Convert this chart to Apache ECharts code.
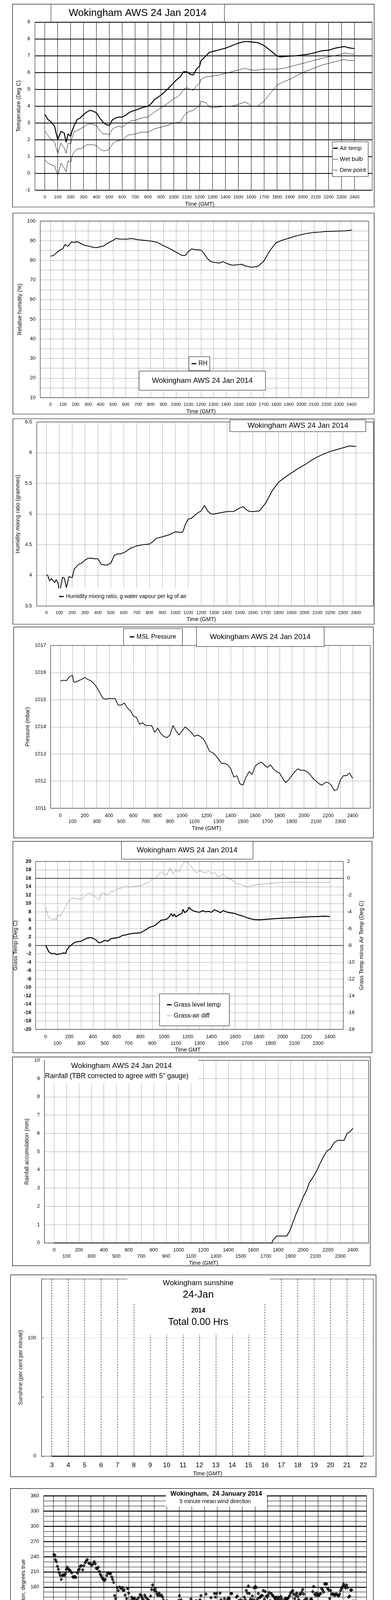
<!DOCTYPE html>
<html><head><meta charset="utf-8">
<script src="https://cdn.jsdelivr.net/npm/echarts@6/dist/echarts.min.js"></script>
<style>html,body{margin:0;padding:0;background:#fff}#c{width:1000px;height:5000px}</style>
</head><body><div id="c"></div>
<script>
// ===================== DATA =====================
// Panel 1: temperatures (time in HHMM-style units 0..2400)
const tempTime = [0,25,50,75,100,125,150,165,180,200,210,225,250,275,300,325,350,375,400,425,450,475,500,525,550,575,600,625,650,675,700,750,800,825,850,900,950,1000,1025,1050,1075,1100,1125,1150,1175,1200,1210,1250,1275,1300,1350,1400,1450,1500,1550,1575,1600,1650,1700,1750,1800,1825,1850,1900,1950,2000,2050,2100,2150,2200,2250,2300,2325,2350,2400];
const airTemp = [3.5,3.2,3.05,2.8,2.0,2.5,2.4,1.85,2.35,2.2,2.5,2.8,3.2,3.3,3.5,3.65,3.75,3.7,3.6,3.3,3.05,2.9,2.85,3.2,3.3,3.35,3.35,3.45,3.6,3.7,3.75,3.9,4.0,4.15,4.4,4.65,5.0,5.4,5.6,5.75,6.05,6.05,5.9,5.85,6.2,6.4,6.7,7.0,7.2,7.25,7.35,7.45,7.6,7.75,7.85,7.85,7.82,7.78,7.6,7.3,6.98,6.93,6.95,6.98,7.0,7.05,7.1,7.2,7.3,7.33,7.45,7.52,7.55,7.48,7.42];
const wetBulb = [2.5,2.25,2.0,1.85,1.2,1.8,1.5,1.2,1.8,1.75,2.1,2.45,2.55,2.65,2.75,2.9,2.95,2.9,2.85,2.55,2.35,2.35,2.3,2.65,2.75,2.8,2.75,2.9,3.05,3.15,3.15,3.3,3.35,3.5,3.65,3.9,4.15,4.45,4.55,4.7,5.0,5.1,5.0,4.95,5.2,5.35,5.6,5.75,5.75,5.8,5.85,5.95,6.05,6.15,6.25,6.2,6.15,6.15,6.2,6.2,6.2,6.22,6.25,6.35,6.45,6.55,6.65,6.75,6.85,6.95,7.0,7.1,7.17,7.12,7.08];
const dewPoint = [0.8,0.6,0.5,0.45,-0.1,0.6,0.3,0.1,0.75,0.65,1.0,1.25,1.45,1.45,1.55,1.7,1.7,1.7,1.65,1.45,1.35,1.35,1.45,1.75,1.9,1.95,2.0,2.15,2.3,2.3,2.35,2.45,2.45,2.55,2.65,2.75,2.85,3.0,3.02,3.02,3.4,3.6,3.7,3.75,3.9,4.0,4.3,4.2,3.95,3.9,3.95,4.0,4.0,4.1,4.25,4.15,4.0,4.0,4.3,4.8,5.25,5.35,5.45,5.6,5.8,6.0,6.15,6.3,6.45,6.55,6.65,6.75,6.77,6.72,6.72];

// Panel 2: relative humidity
const rhTime = [0,25,50,75,100,115,140,170,190,210,250,275,300,350,375,400,425,450,500,525,550,600,650,700,750,800,850,900,950,1000,1050,1075,1100,1125,1150,1200,1225,1250,1275,1300,1350,1375,1400,1450,1500,1525,1550,1600,1650,1700,1750,1800,1850,1900,1950,2000,2050,2100,2150,2200,2250,2300,2350,2400];
const rh = [82.1,82.5,84,85.2,86,88,87.2,89.5,89,89.6,88.3,87.6,87.3,86.5,86.5,87,87.3,88.5,90.2,91.2,90.8,90.8,91.1,90.5,90.2,89.8,89.2,87.5,86,84.2,82.5,82.5,84.5,85.8,85.5,85.2,83.5,81,79.5,79,78.6,79.4,78.5,77.5,77.8,78,77.2,76.5,76.8,79.5,85,89,90.3,91.3,92.3,93.1,93.8,94.2,94.4,94.7,94.8,94.9,95.0,95.4];

// Panel 3: humidity mixing ratio
const mrTime = [0,10,25,40,50,65,75,90,100,110,125,140,155,175,200,215,250,275,300,325,350,375,400,425,450,475,500,525,550,575,600,625,650,675,700,750,800,825,850,900,950,1000,1050,1060,1075,1100,1125,1150,1175,1200,1225,1250,1275,1300,1350,1400,1450,1500,1525,1550,1575,1600,1650,1700,1750,1800,1850,1900,1950,2000,2050,2100,2150,2200,2250,2300,2350,2400];
const mixRatio = [4.01,4.0,3.91,3.95,3.92,3.88,3.93,3.88,3.74,3.8,3.97,3.95,3.8,3.98,3.96,4.1,4.18,4.2,4.25,4.28,4.28,4.27,4.27,4.18,4.17,4.17,4.2,4.32,4.35,4.35,4.37,4.4,4.44,4.46,4.48,4.5,4.51,4.55,4.6,4.63,4.66,4.71,4.7,4.72,4.82,4.92,4.93,4.98,5.02,5.05,5.14,5.05,5.0,5.0,5.02,5.04,5.04,5.1,5.12,5.07,5.04,5.04,5.05,5.18,5.38,5.52,5.6,5.67,5.74,5.8,5.87,5.93,5.98,6.02,6.05,6.08,6.11,6.1];

// Panel 4: MSL pressure
const presTime = [0,25,50,75,100,110,125,150,175,200,225,250,275,300,325,350,375,400,425,450,475,500,525,550,575,600,625,650,675,700,725,750,775,800,825,850,875,900,925,950,975,1000,1025,1050,1075,1100,1125,1150,1175,1200,1225,1250,1275,1300,1325,1350,1375,1400,1425,1450,1475,1500,1525,1550,1575,1600,1625,1650,1675,1700,1725,1750,1775,1800,1825,1850,1875,1900,1925,1950,1975,2000,2025,2050,2075,2100,2125,2150,2175,2200,2225,2250,2275,2300,2325,2350,2375,2400];
const pressure = [1015.69,1015.72,1015.7,1015.85,1015.9,1015.65,1015.65,1015.7,1015.75,1015.82,
  1015.75,1015.7,1015.6,1015.45,1015.25,1015.05,1015.02,1015.05,1015.04,1015.05,
  1014.8,1014.8,1014.88,1014.7,1014.6,1014.4,1014.35,1014.1,1014.15,1014.05,
  1014.05,1014.05,1013.8,1013.95,1013.75,1013.65,1013.6,1013.7,1014.05,1013.85,
  1013.7,1013.85,1014.0,1013.9,1013.8,1013.65,1013.7,1013.65,1013.55,1013.35,
  1013.1,1013.05,1012.95,1012.8,1012.65,1012.65,1012.6,1012.45,1012.15,1012.2,
  1011.9,1011.85,1012.15,1012.35,1012.25,1012.55,1012.65,1012.7,1012.6,1012.5,
  1012.6,1012.45,1012.35,1012.3,1012.1,1011.95,1012.05,1012.2,1012.35,1012.45,
  1012.4,1012.4,1012.35,1012.25,1012.1,1012.0,1011.9,1011.85,1011.95,1011.95,
  1011.85,1011.65,1011.7,1012.05,1012.2,1012.2,1012.3,1012.1];

// Panel 5: grass temperature and grass-air difference
const grassTime = [0,15,25,40,50,75,90,100,125,150,170,180,200,225,250,275,300,325,350,375,400,425,450,475,500,525,550,575,600,625,650,675,700,750,800,825,850,875,900,925,950,975,1000,1025,1050,1060,1075,1085,1100,1125,1150,1160,1175,1200,1210,1225,1250,1275,1300,1325,1350,1375,1400,1425,1450,1475,1500,1525,1550,1575,1600,1625,1650,1675,1700,1725,1750,1800,1850,1900,1950,2000,2050,2100,2150,2200,2250,2300,2350,2400];
const grassTemp = [0,-0.8,-1.5,-1.8,-2.0,-1.9,-2.2,-2.1,-2.0,-1.8,-1.9,-1.0,-0.3,0.3,0.8,0.9,1.0,1.4,1.7,1.9,1.7,1.3,0.6,0.8,1.2,1.0,1.6,1.7,1.8,2.0,2.4,2.5,2.7,2.9,3.0,3.4,3.8,4.3,4.5,4.8,5.4,6.0,6.1,6.3,7.0,7.6,6.9,7.5,6.8,7.3,7.6,8.6,7.8,8.4,9.1,8.6,8.2,8.0,7.9,8.3,8.0,8.1,7.9,8.5,8.2,7.8,8.3,8.0,7.8,7.7,7.6,7.3,7.1,6.9,6.6,6.4,6.2,6.1,6.2,6.3,6.4,6.5,6.55,6.6,6.7,6.8,6.85,6.9,6.95,6.9];
const diffTime = [0,15,25,50,65,75,90,100,125,150,175,200,225,250,275,300,325,350,375,400,425,450,475,500,525,550,575,600,625,650,675,700,750,800,850,875,900,925,950,975,1000,1025,1050,1075,1100,1125,1150,1175,1200,1225,1250,1275,1300,1325,1350,1375,1400,1425,1450,1475,1500,1525,1550,1575,1600,1625,1650,1675,1700,1725,1750,1800,1850,1900,1950,2000,2050,2100,2150,2200,2250,2300,2350,2400];
const grassAirDiff = [-3.45,-4.25,-4.6,-4.85,-5.0,-4.75,-5.0,-4.35,-4.5,-3.85,-3.25,-2.6,-2.35,-2.4,-2.5,-2.5,-2.25,-1.85,-1.75,-2.0,-2.25,-2.6,-1.7,-1.85,-2.0,-1.6,-1.6,-1.25,-1.25,-1.05,-1.0,-1.05,-1.0,-0.9,-0.6,-0.5,-0.05,0,0.4,0.8,0.5,0.4,1.25,0.5,1.0,0.75,1.5,2.0,1.9,1.5,1.0,0.65,0.9,0.75,0.6,0.9,0.5,0.75,0.2,0.25,0.5,0.15,-0.05,-0.2,-0.5,-0.7,-0.75,-0.9,-1.05,-1.0,-0.85,-0.75,-0.65,-0.6,-0.55,-0.5,-0.48,-0.45,-0.48,-0.5,-0.48,-0.52,-0.5,-0.48];

// Panel 6: rainfall accumulation
const rainTime = [0,1749,1759,1769,1793,1869,1889,1909,1939,1970,2000,2030,2050,2080,2106,2140,2170,2194,2220,2250,2280,2330,2354,2380,2400];
const rainAcc = [0,0,0.15,0.25,0.38,0.38,0.6,0.94,1.5,2.0,2.5,2.9,3.3,3.6,3.9,4.4,4.8,5.05,5.15,5.5,5.62,5.62,6.0,6.1,6.28];

// Panel 7: sunshine (hours)
const sunHour = [3,4,5,6,7,8,9,10,11,12,13,14,15,16,17,18,19,20,21,22];
const sunshine = [0,0,0,0,0,0,0,0,0,0,0,0,0,0,0,0,0,0,0,0];

// Panel 8: 5-minute mean wind direction [hour, degrees]
const windDir = [[0.06,244],[0.14,243],[0.18,234],[0.26,230],[0.34,221],[0.42,215],[0.49,208],[0.57,203],[0.65,195],[0.73,203],[0.81,204],[0.89,203],[0.97,206],[1.05,215],[1.13,219],[1.21,215],[1.29,214],[1.36,212],[1.48,208],[1.56,200],[1.64,199],[1.72,201],[1.80,199],[1.92,208],[2.00,214],[2.08,215],[2.15,221],[2.23,222],[2.35,214],[2.43,222],[2.55,228],[2.63,232],[2.71,234],[2.83,227],[2.95,226],[3.06,223],[3.18,226],[3.26,230],[3.34,226],[3.42,217],[3.50,216],[3.58,219],[3.66,211],[3.74,205],[3.82,202],[3.89,198],[3.97,195],[4.05,193],[4.13,195],[4.25,203],[4.33,208],[4.41,208],[4.49,206],[4.57,207],[4.65,200],[4.72,195],[4.80,189],[4.88,163],[4.96,157],[5.08,179],[5.16,173],[5.28,180],[5.40,177],[5.48,179],[5.56,173],[5.63,174],[5.71,164],[5.83,157],[5.91,177],[5.99,168],[6.07,149],[6.15,153],[6.23,160],[6.31,157],[6.39,156],[6.46,158],[6.58,153],[6.66,155],[6.78,159],[6.90,165],[6.98,163],[7.06,159],[7.14,155],[7.26,164],[7.33,160],[7.45,157],[7.53,154],[7.61,153],[7.73,162],[7.81,175],[7.89,184],[8.01,174],[8.09,177],[8.16,171],[8.24,166],[8.32,163],[8.40,168],[8.48,163],[8.60,164],[8.68,160],[8.76,154],[8.84,146],[8.92,144],[9.00,152],[9.07,152],[9.15,137],[9.23,133],[9.31,141],[9.39,133],[9.47,135],[9.55,132],[9.63,137],[9.71,138],[9.79,128],[9.86,144],[9.94,153],[10.02,163],[10.14,155],[10.26,149],[10.34,142],[10.42,126],[10.54,133],[10.62,135],[10.74,137],[10.85,136],[10.93,156],[11.01,138],[11.09,147],[11.17,144],[11.25,149],[11.33,153],[11.41,146],[11.53,152],[11.65,155],[11.72,163],[11.84,147],[11.92,144],[12.00,146],[12.12,166],[12.20,148],[12.28,151],[12.36,149],[12.44,147],[12.52,159],[12.59,146],[12.71,151],[12.79,167],[12.87,160],[12.95,167],[13.03,139],[13.11,142],[13.23,168],[13.31,155],[13.38,145],[13.50,151],[13.58,157],[13.70,148],[13.82,155],[13.90,159],[13.98,157],[14.10,167],[14.17,167],[14.25,144],[14.33,146],[14.45,148],[14.53,160],[14.61,162],[14.69,153],[14.77,141],[14.85,155],[14.93,149],[15.04,152],[15.16,160],[15.24,155],[15.32,173],[15.40,168],[15.48,182],[15.56,167],[15.64,156],[15.72,155],[15.80,162],[15.88,155],[15.95,178],[16.03,181],[16.11,179],[16.19,156],[16.27,167],[16.35,159],[16.43,160],[16.51,163],[16.59,163],[16.67,173],[16.75,156],[16.82,171],[16.90,162],[16.98,160],[17.06,164],[17.14,169],[17.22,153],[17.30,167],[17.38,164],[17.46,162],[17.54,159],[17.61,156],[17.69,160],[17.77,155],[17.85,160],[17.93,156],[18.05,161],[18.13,156],[18.21,151],[18.29,149],[18.37,156],[18.45,158],[18.52,156],[18.60,157],[18.68,160],[18.76,163],[18.84,168],[18.92,171],[19.00,173],[19.08,166],[19.16,157],[19.24,164],[19.32,168],[19.39,161],[19.47,155],[19.55,166],[19.63,166],[19.71,170],[19.79,175],[19.87,166],[19.95,155],[20.03,152],[20.11,157],[20.19,152],[20.26,147],[20.34,151],[20.42,156],[20.50,156],[20.58,171],[20.66,181],[20.74,166],[20.82,163],[20.90,168],[20.98,164],[21.06,163],[21.13,166],[21.21,167],[21.29,177],[21.37,174],[21.45,170],[21.53,186],[21.61,186],[21.69,186],[21.77,177],[21.85,174],[21.93,157],[22.00,173],[22.08,166],[22.16,166],[22.24,166],[22.32,163],[22.40,166],[22.48,166],[22.56,164],[22.64,162],[22.72,166],[22.80,173],[22.87,177],[22.95,181],[23.03,186],[23.11,182],[23.19,178],[23.27,184],[23.35,179],[23.43,160],[23.51,162],[23.59,174],[23.67,174],[23.75,152],[23.83,148],[23.91,152]];

// Panel 9: wind speed
const meanStepH = 0.25;   // 15-minute samples of the 10-min mean speed
const meanSpeed = [5.3,3.6,3.0,3.4, 3.9,3.4,2.8,3.6, 3.9,3.8,4.0,4.45, 3.6,3.9,4.1,3.5, 2.8,3.5,3.4,2.9, 2.0,2.65,3.15,3.4, 4.35,4.8,4.9,4.45, 4.7,4.8,5.1,4.9, 4.1,4.45,4.35,4.1, 4.45,4.35,4.9,5.2, 5.1,5.3,5.55,5.1, 5.8,6.05,5.55,6.75, 6.05,7.0,6.5,8.2, 7.5,7.0,6.75,6.3, 7.0,5.8,7.0,7.75, 8.0,7.25,6.75,6.05, 4.6,4.35,5.8,5.3, 6.7,6.85,6.3,6.75, 5.8,6.5,6.85,6.05, 5.3,4.8,5.3,5.55, 5.2,5.4,4.6,4.35, 4.75,4.1,3.9,4.8, 5.3,5.55,4.9,3.9, 3.15,2.9,2.8,2.2, 3.0];
const gustStepH = 1/6;    // 10-minute samples of max gust
const maxGust = [8.5,5.5,6.2,4.0,5.0,4.2, 5.2,3.8,4.8,3.5,5.0,3.8, 5.8,4.5,6.0,5.0,6.2,4.8, 5.5,4.6,5.8,4.5,5.5,4.2, 4.0,3.6,4.8,3.5,4.6,3.0, 2.5,3.5,2.8,4.5,3.8,5.2, 6.5,5.0,7.0,5.5,6.5,5.0, 7.5,5.5,8.0,6.0,8.8,6.0, 6.5,5.0,7.2,5.5,7.0,5.2, 7.5,5.5,8.0,6.0,8.5,6.0, 9.5,6.5,11.0,7.0,12.5,7.0, 14.5,7.5,12.0,8.0,13.0,7.5, 11.5,8.0,16.5,7.0,12.5,8.5, 13.5,8.0,12.0,7.5,14.5,7.5, 12.0,7.0,12.5,8.0,13.0,7.5, 15.0,8.0,12.0,7.0,11.0,6.5, 9.0,5.0,8.5,5.5,9.0,6.0, 11.0,7.0,14.5,7.5,12.0,7.0, 13.0,6.5,11.5,7.0,12.5,6.0, 9.5,6.0,11.0,6.5,10.0,6.0, 10.5,5.5,9.5,5.0,9.0,5.0, 8.5,4.5,7.5,5.0,9.0,5.5, 9.0,5.5,9.5,5.0,8.0,4.5, 6.0,3.5,5.0,2.8,4.5,2.6, 4.2];
const lowSpeedX10 = [[0.23,39.4],[0.27,37.5],[0.31,36.8],[0.35,35.3],[0.42,36.3],[0.46,34.8],[0.50,33.4],[0.54,31.2],[0.58,30.0],[0.62,28.8],[0.65,28.3],[0.69,29.5],[0.73,30.5],[0.77,31.9],[0.81,33.4],[0.85,34.8],[0.89,36.0],[0.92,37.2],[0.96,38.7],[1.00,36.0],[1.04,34.8],[1.08,33.4],[1.12,32.2],[1.16,30.9],[1.19,30.0],[1.23,29.5],[1.27,30.5],[1.31,32.2],[1.35,33.8],[1.39,32.4],[1.43,30.9],[1.46,29.7],[1.50,28.5],[1.54,27.1],[1.58,26.6],[1.62,32.2],[1.66,34.8],[1.69,36.3],[1.73,38.2],[1.77,39.9],[1.81,39.2],[1.89,38.7],[1.96,37.7],[2.04,38.2],[2.12,38.9],[2.20,37.2],[2.27,39.2],[2.35,38.2],[2.43,39.2],[2.50,40.0],
 [2.89,39.7],[2.93,38.7],[2.97,37.2],[3.00,36.3],[3.04,38.2],[3.08,39.2],[3.12,39.7],[3.16,37.9],[3.20,37.2],[3.27,39.7],[3.35,38.7],[3.43,39.2],[3.51,38.2],[3.54,37.2],[3.58,36.3],[3.62,35.1],[3.66,33.8],[3.70,32.4],[3.74,31.2],[3.78,30.0],[3.81,29.0],[3.85,28.0],[3.89,29.5],[3.93,28.8],[3.97,27.8],[4.00,29.5],[4.04,28.0],[4.08,26.8],[4.12,27.6],[4.16,29.0],[4.20,33.4],[4.24,34.8],[4.28,36.3],[4.31,37.0],[4.35,35.8],[4.39,34.8],[4.43,36.3],[4.47,36.8],[4.51,35.3],[4.55,34.1],[4.58,32.4],[4.62,30.9],[4.66,29.5],[4.70,28.0],[4.74,27.1],[4.78,26.1],[4.82,24.9],[4.85,25.6],[4.89,26.6],[4.93,27.3],[4.97,24.7],[5.01,23.2],[5.05,21.8],[5.08,20.3],[5.12,19.6],[5.16,20.6],[5.20,21.8],[5.24,23.2],[5.28,23.9],[5.32,25.1],[5.35,26.6],[5.39,27.8],[5.43,29.3],[5.47,31.2],[5.51,32.9],[5.55,34.3],[5.59,35.8],[5.62,36.8],[5.66,37.2],[5.70,36.3],[5.74,35.3],[5.78,34.3],[5.82,33.4],[5.86,32.2],[5.89,30.9],[5.93,30.5],[5.97,31.9],[6.01,33.4],[6.05,34.8],[6.09,36.3],[6.12,38.4],[6.16,39.2],
 [7.97,38.4],[8.01,39.7],[8.05,39.2],[8.86,39.9],[8.90,38.9],[8.94,38.0],[9.01,39.4],[9.44,39.9],[9.48,38.7],[9.51,38.1],[9.55,39.7],[9.94,39.9],[16.22,39.9],[16.45,39.3],[19.41,38.9],
 [21.63,39.7],[21.69,38.9],[21.73,36.3],[21.77,34.3],[21.80,32.4],[21.84,33.1],[21.88,34.8],[21.92,37.2],[21.96,38.2],[22.00,35.3],[22.04,33.4],[22.07,34.8],[22.11,36.3],[22.15,36.8],[22.19,39.2],
 [23.07,39.4],[23.11,38.8],[23.15,37.0],[23.19,34.8],[23.23,33.8],[23.27,32.4],[23.31,30.5],[23.35,29.0],[23.39,27.6],[23.42,29.5],[23.46,31.4],[23.50,32.4],[23.54,30.9],[23.58,29.5],[23.62,28.0],[23.65,26.1],[23.69,24.4],[23.73,22.7],[23.77,21.0],[23.81,18.6],[23.85,20.3],[23.89,22.2],[23.92,24.7],[23.96,28.0],[24.00,29.7]];

// ===================== LAYOUT / STYLE =====================
const SANS = '"Liberation Sans",Arial,sans-serif';
const PLAIN = v => String(+(+v).toFixed(2));
const LBL = {fontFamily:SANS,fontSize:12.5,color:'#000',formatter:PLAIN};
const NAME = {fontFamily:SANS,fontSize:14,color:'#000'};
// legend icons: a thick bar, and a thin bar centred in the same box
const ICON_THICK = 'path://M0,0H12V3H0Z';
const ICON_THIN = 'path://M0,0L12,0M0,1H12V2H0ZM0,3L12,3';

const grid=[], xAxis=[], yAxis=[], series=[], legend=[], graphic=[];
const zip = (xs, ys) => xs.map((x,i)=>[x, ys[i]]);
function addGrid(l,t,r,b,show){ grid.push({left:l,top:t,width:r-l,height:b-t,show:!!show,borderColor:'#000',borderWidth:1,backgroundColor:'transparent'}); return grid.length-1; }
function addX(o){ xAxis.push(o); return xAxis.length-1; }
function addY(o){ yAxis.push(Object.assign({position:'left'},o)); return yAxis.length-1; }
function mkLine(name,xi,yi,data,color,width,extra){
  return Object.assign({type:'line',name,xAxisIndex:xi,yAxisIndex:yi,data,symbol:'none',showSymbol:false,
    lineStyle:{color,width},itemStyle:{color},silent:true,z:3}, extra||{});
}
function box(x,y,w,h,opt){ graphic.push(Object.assign({type:'rect',z:10,shape:{x,y,width:w,height:h},style:{fill:'#fff',stroke:'#000',lineWidth:1}},opt||{})); }
function cover(x,y,w,h){ graphic.push({type:'rect',z:10,shape:{x,y,width:w,height:h},style:{fill:'#fff',stroke:null}}); }
function frameBox(x,y,w,h){ graphic.push({type:'rect',z:1,shape:{x,y,width:w,height:h},style:{fill:'none',stroke:'#000',lineWidth:1.2}}); }
function txt(x,y,text,size,o){ o=o||{}; graphic.push({type:'text',z:12,style:{text,x,y,fill:'#000',fontSize:size,fontFamily:o.family||SANS,fontWeight:o.weight||'normal',
  align:o.align||'center',textAlign:o.align||'center',verticalAlign:'middle',textVerticalAlign:'middle'}}); }
function lbl(o){ return Object.assign({}, LBL, o||{}); }
function innerX(gi,min,max,interval,o){
  return addX(Object.assign({gridIndex:gi,type:'value',min,max,interval,axisLine:{show:false},axisTick:{show:false},
    axisLabel:lbl({margin:12}),splitLine:{show:true,showMinLine:true,showMaxLine:true,lineStyle:{color:'#000',width:1}},
    nameLocation:'middle',nameTextStyle:NAME},o||{}));
}
const TITLE = 'Wokingham AWS 24 Jan 2014';
const twoRow = v => (Math.round(v/100)%2===1 ? '\n'+v : String(v));
const DOT = {color:'#000',width:1,type:[1,2]};
const legendBase = {selectedMode:false,z:20,backgroundColor:'#fff'};

// ---------- Panel 1: Temperature ----------
frameBox(32,10.7,925,519.3);
{
  const F = addGrid(89.3,56.7,952,486.7,true);
  addX({gridIndex:F,type:'value',min:0,max:1,show:false});
  addY({gridIndex:F,type:'value',min:-1,max:9,interval:1,axisLine:{show:false},axisTick:{show:false},
    axisLabel:lbl({margin:12,fontSize:13}),splitLine:{show:true,lineStyle:{color:'#000',width:2}},
    name:'Temperature (Deg C)',nameLocation:'middle',nameGap:34,nameTextStyle:NAME});
  const I = addGrid(114.7,56.7,906.7,486.7,false);
  const ix = innerX(I,0,2400,100,{name:'Time (GMT)',nameGap:29,axisLabel:lbl({margin:12.5,fontSize:11.5})});
  const iy = addY({gridIndex:I,type:'value',min:-1,max:9,show:false});
  series.push(mkLine('Air temp',ix,iy,zip(tempTime,airTemp),'#000',2.5));
  series.push(mkLine('Wet bulb',ix,iy,zip(tempTime,wetBulb),'#000',1));
  series.push(mkLine('Dew point',ix,iy,zip(tempTime,dewPoint),'#000',1));
  legend.push(Object.assign({},legendBase,{data:[{name:'Air temp',icon:ICON_THICK},{name:'Wet bulb',icon:ICON_THIN},{name:'Dew point',icon:ICON_THIN}],
    orient:'vertical',left:850,top:363,itemWidth:12,itemHeight:3,itemGap:13,
    padding:[9,6,9,2],borderColor:'#000',borderWidth:1,textStyle:{fontFamily:SANS,fontSize:15,color:'#000',lineHeight:15}}));
  box(130.3,10.7,443.7,45.6);
  txt(352,33.5,TITLE,26);
}

// ---------- Panel 2: Relative humidity ----------
frameBox(33,545.5,924,514.5);
{
  const F = addGrid(103,566,943,1018,true);
  addX({gridIndex:F,type:'value',min:0,max:1,show:false});
  addY({gridIndex:F,type:'value',min:10,max:100,interval:5,axisLine:{show:false},axisTick:{show:false},
    axisLabel:lbl({margin:12,fontSize:13,formatter:v=>(v%10===0?String(v):'')}),splitLine:{show:true,lineStyle:DOT},
    name:'Relative humidity (%)',nameLocation:'middle',nameGap:43,nameTextStyle:NAME});
  const I = addGrid(129,566,899,1018,false);
  const ix = innerX(I,0,2400,100,{name:'Time (GMT)',nameGap:29,axisLabel:lbl({margin:11.5,fontSize:11.5}),splitLine:{show:true,lineStyle:DOT}});
  const iy = addY({gridIndex:I,type:'value',min:10,max:100,show:false});
  series.push(mkLine('RH',ix,iy,zip(rhTime,rh),'#000',2));
  legend.push(Object.assign({},legendBase,{data:[{name:'RH',icon:ICON_THICK}],left:483,top:913,itemWidth:13,itemHeight:3,
    padding:[10,6,10,7],borderColor:'#000',borderWidth:1,textStyle:{fontFamily:SANS,fontSize:16,color:'#000',lineHeight:16}}));
  box(356,950,323,49);
  txt(517.5,975,TITLE,19);
}

// ---------- Panel 3: Mixing ratio ----------
frameBox(33,1072,924,526);
{
  const F = addGrid(94,1080.3,955,1551.4,true);
  addX({gridIndex:F,type:'value',min:0,max:1,show:false});
  addY({gridIndex:F,type:'value',min:3.5,max:6.5,interval:0.5,axisLine:{show:false},axisTick:{show:false},
    axisLabel:lbl({margin:12,fontSize:13}),splitLine:{show:true,lineStyle:DOT},
    name:'Humidity mixing ratio (grammes)',nameLocation:'middle',nameGap:40,nameTextStyle:NAME});
  const I = addGrid(118.6,1080.3,910.7,1551.4,false);
  const ix = innerX(I,0,2400,100,{name:'Time (GMT)',nameGap:28,axisLabel:lbl({margin:11.5,fontSize:11.5}),splitLine:{show:true,lineStyle:DOT}});
  const iy = addY({gridIndex:I,type:'value',min:3.5,max:6.5,show:false});
  series.push(mkLine('Humidity mixing ratio, g water vapour per kg of air',ix,iy,zip(mrTime,mixRatio),'#000',2));
  legend.push(Object.assign({},legendBase,{data:[{name:'Humidity mixing ratio, g water vapour per kg of air',icon:ICON_THICK}],
    left:128,top:1506,itemWidth:13,itemHeight:3,padding:[14,8,15,23],textStyle:{fontFamily:SANS,fontSize:14,color:'#000',lineHeight:14}}));
  box(588,1074.8,347.6,30.2);
  txt(762,1090,TITLE,19);
}

// ---------- Panel 4: Pressure ----------
frameBox(35,1605.1,920,540);
{
  const F = addGrid(129.5,1652.4,947,2069.1,true);
  addX({gridIndex:F,type:'value',min:0,max:1,show:false});
  addY({gridIndex:F,type:'value',min:1011,max:1017,interval:1,axisLine:{show:false},axisTick:{show:false},
    axisLabel:lbl({margin:11.5,fontSize:13}),splitLine:{show:true,lineStyle:DOT},
    name:'Pressure (mbar)',nameLocation:'middle',nameGap:50,nameTextStyle:NAME});
  const I = addGrid(154.3,1652.4,901.8,2069.1,false);
  const ix = innerX(I,0,2400,100,{name:'Time (GMT)',nameGap:45,
    axisLabel:lbl({margin:12,formatter:twoRow,lineHeight:14.7}),splitLine:{show:true,lineStyle:DOT}});
  const iy = addY({gridIndex:I,type:'value',min:1011,max:1017,show:false});
  series.push(mkLine('MSL Pressure',ix,iy,zip(presTime,pressure),'#000',1.8));
  legend.push(Object.assign({},legendBase,{data:[{name:'MSL Pressure',icon:ICON_THICK}],left:316,top:1609.3,itemWidth:13,itemHeight:3,
    padding:[13,16,14,15.6],borderColor:'#000',borderWidth:1,textStyle:{fontFamily:SANS,fontSize:16,color:'#000',lineHeight:16}}));
  box(502.5,1605.1,326.5,50.1);
  txt(665.5,1630.3,TITLE,19);
}

// ---------- Panel 5: Grass temperature ----------
frameBox(33,2153.8,918.5,541.3);
{
  const F = addGrid(91,2205.4,878,2635.1,true);
  const fx = addX({gridIndex:F,type:'value',min:0,max:1,show:false});
  const fy = addY({gridIndex:F,type:'value',min:-20,max:20,interval:2,axisLine:{show:false},axisTick:{show:false},
    axisLabel:lbl({margin:11,fontSize:13,fontWeight:'bold'}),splitLine:{show:true,lineStyle:DOT},
    name:'Grass Temp (Deg C)',nameLocation:'middle',nameGap:44,nameTextStyle:NAME});
  addY({gridIndex:F,type:'value',position:'right',min:-18,max:2,interval:2,axisLine:{show:false},axisTick:{show:false},
    axisLabel:lbl({margin:10,fontSize:13}),splitLine:{show:false},
    name:'Grass Temp minus Air Temp (Deg C)',nameLocation:'middle',nameGap:40,nameTextStyle:NAME});
  series.push({type:'line',name:'zero lines',xAxisIndex:fx,yAxisIndex:fy,data:[],silent:true,
    markLine:{symbol:'none',silent:true,label:{show:false},lineStyle:{color:'#000',type:'solid',width:1.3},data:[{yAxis:0},{yAxis:16}]}});
  const I = addGrid(116.7,2205.4,843.8,2635.1,false);
  const ix = innerX(I,0,2400,100,{name:'Time GMT',nameGap:46,
    axisLabel:lbl({margin:10.5,formatter:twoRow,lineHeight:17}),splitLine:{show:true,lineStyle:DOT}});
  const iy = addY({gridIndex:I,type:'value',min:-20,max:20,show:false});
  const iy2 = addY({gridIndex:I,type:'value',min:-18,max:2,show:false});
  series.push(mkLine('Grass-air diff',ix,iy2,zip(diffTime,grassAirDiff),'#808080',1));
  series.push(mkLine('Grass level temp',ix,iy,zip(grassTime,grassTemp),'#000',2.5));
  legend.push(Object.assign({},legendBase,{data:[{name:'Grass level temp',icon:ICON_THICK},{name:'Grass-air diff',icon:ICON_THIN}],
    orient:'vertical',left:408,top:2544.2,itemWidth:13,itemHeight:3,itemGap:12,
    padding:[20,22,18,19],borderColor:'#000',borderWidth:1,textStyle:{fontFamily:SANS,fontSize:16,color:'#000',lineHeight:16}}));
  box(310.6,2153.8,336.4,45.6);
  txt(478.5,2176.6,TITLE,19);
}

// ---------- Panel 6: Rainfall ----------
frameBox(32,2705.9,915,534.5);
{
  const F = addGrid(113.5,2714.4,942.6,3181.9,true);
  addX({gridIndex:F,type:'value',min:0,max:1,show:false});
  addY({gridIndex:F,type:'value',min:0,max:10,interval:1,axisLine:{show:false},axisTick:{show:false},
    axisLabel:lbl({margin:11.5,fontSize:13}),splitLine:{show:true,lineStyle:DOT},
    name:'Rainfall accumulation (mm)',nameLocation:'middle',nameGap:35,nameTextStyle:NAME});
  const I = addGrid(138.4,2714.4,902.4,3181.9,false);
  const ix = innerX(I,0,2400,100,{name:'Time (GMT)',nameGap:45,
    axisLabel:lbl({margin:10.5,formatter:twoRow,lineHeight:16}),splitLine:{show:true,lineStyle:DOT}});
  const iy = addY({gridIndex:I,type:'value',min:0,max:10,show:false});
  series.push(mkLine('Rainfall',ix,iy,zip(rainTime,rainAcc),'#000',2));
  cover(114.5,2708,392.5,64);
  txt(310.6,2728.4,TITLE,19);
  txt(115,2754.7,'Rainfall (TBR corrected to agree with 5" gauge)',17.5,{align:'left'});
}

// ---------- Panel 7: Sunshine ----------
frameBox(26.8,3263.6,934.9,516.8);
{
  const F = addGrid(106.5,3274.3,954.7,3727.9,true);
  addX({gridIndex:F,type:'value',min:0,max:1,show:false});
  addY({gridIndex:F,type:'value',min:0,max:150,interval:50,axisLine:{show:false},
    axisTick:{show:true,inside:true,length:5,lineStyle:{color:'#000'}},
    axisLabel:lbl({margin:14,fontSize:13,formatter:v=>(v===0||v===100?String(v):'')}),
    splitLine:{show:true,lineStyle:{color:'#b0b0b0',width:1,type:[1,2]}},
    name:'Sunshine (per cent per minute)',nameLocation:'middle',nameGap:43.5,nameTextStyle:NAME});
  const I = addGrid(132.7,3274.3,929.2,3727.9,false);
  const ix = innerX(I,3,22,1,{name:'Time (GMT)',nameGap:38.7,
    axisLabel:{margin:15,fontFamily:SANS,fontSize:17,color:'#000',formatter:PLAIN},
    splitLine:{show:true,lineStyle:{color:'#000',width:1,type:[4,3]}}});
  const iy = addY({gridIndex:I,type:'value',min:0,max:150,show:false});
  series.push(mkLine('Sunshine',ix,iy,zip(sunHour,sunshine),'#000',2.5,{clip:false}));
  cover(326,3265,364,73);
  cover(350,3338,320,78);
  txt(507,3284.3,'Wokingham sunshine',19);
  txt(507,3314.6,'24-Jan',26);
  txt(507,3355.7,'2014',16,{weight:'bold'});
  txt(507,3385,'Total 0.00 Hrs',25);
}

// ---------- Panel 8: Wind direction ----------
frameBox(26.8,3810.7,927.9,533.5);
{
  const F = addGrid(111.6,3829.6,937.5,4295.9,true);
  addX({gridIndex:F,type:'value',min:0,max:1,show:false});
  addY({gridIndex:F,type:'value',position:'left',min:0,max:360,interval:10,axisLine:{show:false},axisTick:{show:false},axisLabel:{show:false},
    splitLine:{show:true,lineStyle:{color:'#000',width:1}}});
  addY({gridIndex:F,type:'value',position:'left',min:0,max:360,interval:30,axisLine:{show:false},axisTick:{show:false},
    axisLabel:lbl({margin:11.6,fontSize:13}),splitLine:{show:true,lineStyle:{color:'#000',width:2.5}},
    name:'Direction, degrees true',nameLocation:'middle',nameGap:44,nameTextStyle:NAME});
  const I = addGrid(135.8,3829.6,910,4295.9,false);
  const ix = innerX(I,0,24,1,{name:'Time (GMT)',nameGap:28.7,axisLabel:lbl({margin:12,fontSize:13})});
  const iy = addY({gridIndex:I,type:'value',min:0,max:360,show:false});
  series.push({type:'scatter',name:'Direction',xAxisIndex:ix,yAxisIndex:iy,data:windDir,symbol:'diamond',symbolSize:[9,10],
    itemStyle:{color:'#000'},silent:true,z:3});
  cover(424,3812,258.4,45);
  txt(553,3824.3,'Wokingham,  24 January 2014',16.5,{weight:'bold'});
  txt(550.4,3844.6,'5 minute mean wind direction',14);
}

// ---------- Panel 9: Wind speed ----------
frameBox(26.8,4359.5,927.9,514.5);
{
  const F = addGrid(85.5,4403.9,948.3,4799.6,true);
  addX({gridIndex:F,type:'value',min:0,max:1,show:false});
  addY({gridIndex:F,type:'value',min:0,max:50,interval:5,axisLine:{show:false},
    axisTick:{show:true,inside:true,length:13,lineStyle:{color:'#000'}},
    axisLabel:lbl({margin:10.5,fontSize:13,formatter:v=>(v%10===0?String(v):'')}),splitLine:{show:true,lineStyle:DOT},
    name:'Speed (knots)',nameLocation:'middle',nameGap:38.5,nameTextStyle:NAME});
  const I = addGrid(109.7,4403.9,904.3,4799.6,false);
  const hh = v => { const h = Math.round(v)%24; return (h<10?'0':'')+h+':00'; };
  const ix = innerX(I,0,24,1,{name:'Time (GMT)',nameGap:44.7,
    axisLabel:lbl({margin:10.75,lineHeight:15.3,formatter:v=>(Math.round(v)%2===1?'\n'+hh(v):hh(v))}),
    splitLine:{show:true,lineStyle:DOT}});
  const iy = addY({gridIndex:I,type:'value',min:0,max:50,show:false});
  series.push(mkLine('Max gust',ix,iy,maxGust.map((v,i)=>[i*gustStepH,v]),'#505050',1));
  series.push(mkLine('Speed x 1',ix,iy,meanSpeed.map((v,i)=>[i*meanStepH,v]),'#000',2));
  series.push({type:'scatter',name:'Speed / 10',xAxisIndex:ix,yAxisIndex:iy,data:lowSpeedX10,symbol:'diamond',symbolSize:[8,9],
    itemStyle:{color:'#c8c8c8',borderColor:'#303030',borderWidth:0.8},silent:true,z:4});
  legend.push(Object.assign({},legendBase,{data:[{name:'Speed x 1',icon:'path://M0,0L11,0M0,3H11V5.5H0ZM0,9L11,9'},
      {name:'Speed / 10',icon:'path://M0,0L0,0M5.5,0L9.5,4.5L5.5,9L1.5,4.5ZM11,9L11,9'}],
    left:725,top:4365.2,itemWidth:11,itemHeight:9,itemGap:21,
    padding:[7.5,18,7.5,34],borderColor:'#000',borderWidth:1,textStyle:{fontFamily:SANS,fontSize:11,color:'#000'}}));
  cover(86.5,4396,345,12);
  txt(259.6,4383.2,'Wokingham,  24 January 2014',18.5);
  txt(570.8,4371.7,'Wind speed, 10 min mean / max gust',13.5);
  txt(570.8,4390.1,'Mean speed <4 kt shown also at x10 scale',13.5);
}

const chart = echarts.init(document.getElementById('c'), null, {renderer:'canvas', width:1000, height:5000});
chart.setOption({animation:false,backgroundColor:'#fff',textStyle:{fontFamily:SANS},
  grid, xAxis, yAxis, series, legend, graphic});
</script>
</body></html>
